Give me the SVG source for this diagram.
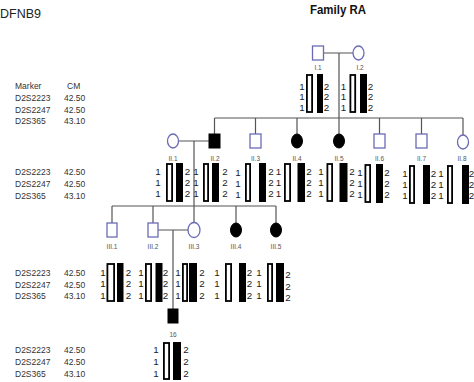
<svg xmlns="http://www.w3.org/2000/svg" width="474" height="382" viewBox="0 0 474 382">
<style>
.sym{fill:#fff;stroke:#6b6bb5;stroke-width:1.3}
.aff{fill:#000;stroke:#000;stroke-width:1}
.ln{stroke:#555;stroke-width:1.2;fill:none}
.w{fill:#fff;stroke:#000;stroke-width:1.8}
.b{fill:#000}
.n{font-family:"Liberation Sans",Arial,sans-serif;font-size:9.8px;fill:#1a1a1a;text-anchor:middle}
.lbl{font-family:"Liberation Sans",Arial,sans-serif;font-size:6.5px;fill:#555;text-anchor:middle}
.t{font-family:"Liberation Sans",Arial,sans-serif;font-size:8.5px;fill:#333}
</style>
<rect width="474" height="382" fill="#fff"/>
<text x="0" y="18" font-family="Liberation Sans, Arial, sans-serif" font-size="12.5" fill="#222">DFNB9</text>
<text x="310" y="13.5" font-family="Liberation Sans, Arial, sans-serif" font-size="13" font-weight="bold" fill="#111" textLength="56" lengthAdjust="spacingAndGlyphs">Family RA</text>
<g id="tables" class="t">
<text x="15" y="89">Marker</text><text x="67" y="89">CM</text>
<text x="15" y="101">D2S2223</text><text x="64" y="101">42.50</text>
<text x="15" y="112.5">D2S2247</text><text x="64" y="112.5">42.50</text>
<text x="15" y="124">D2S365</text><text x="64" y="124">43.10</text>
<text x="15" y="175">D2S2223</text><text x="64" y="175">42.50</text>
<text x="15" y="186.5">D2S2247</text><text x="64" y="186.5">42.50</text>
<text x="15" y="198.5">D2S365</text><text x="64" y="198.5">43.10</text>
<text x="15" y="276">D2S2223</text><text x="64" y="276">42.50</text>
<text x="15" y="287.5">D2S2247</text><text x="64" y="287.5">42.50</text>
<text x="15" y="299">D2S365</text><text x="64" y="299">43.10</text>
<text x="15" y="353">D2S2223</text><text x="64" y="353">42.50</text>
<text x="15" y="365">D2S2247</text><text x="64" y="365">42.50</text>
<text x="15" y="377">D2S365</text><text x="64" y="377">43.10</text>
</g>
<g id="connectors" class="ln">
<path d="M323 53H353M339 53V134"/>
<path d="M214.5 118H463M214.5 118V134M255.5 118V134M297 118V134M379.5 118V134M421.5 118V134M463 118V135"/>
<path d="M178.5 141H209M194 141V223"/>
<path d="M112 206H276M112 206V223M153 206V223M236 206V223M276 206V223"/>
<path d="M158 230H188M173 230V309"/>
</g>
<g id="I1">
<rect class="sym" x="312.5" y="46" width="11" height="14"/>
<text class="lbl" x="318" y="70">I.1</text>
<rect class="w" x="306.9" y="75" width="5.2" height="37"/><rect class="b" x="317" y="74" width="6" height="39"/>
<text class="n" x="302" y="89.5">1</text><text class="n" x="302" y="100">1</text><text class="n" x="302" y="111">1</text>
<text class="n" x="326.5" y="89.5">2</text><text class="n" x="326.5" y="100">2</text><text class="n" x="326.5" y="111">2</text>
</g>
<g id="I2">
<ellipse class="sym" cx="358.5" cy="53" rx="5.5" ry="7"/>
<text class="lbl" x="360" y="70">I.2</text>
<rect class="w" x="350.4" y="75" width="4.8" height="37"/><rect class="b" x="360" y="74" width="7" height="39"/>
<text class="n" x="343.5" y="89.5">1</text><text class="n" x="343.5" y="100">1</text><text class="n" x="343.5" y="111">1</text>
<text class="n" x="370.5" y="89.5">2</text><text class="n" x="370.5" y="100">2</text><text class="n" x="370.5" y="111">2</text>
</g>
<g id="II1">
<ellipse class="sym" cx="173" cy="141" rx="5.5" ry="7"/>
<text class="lbl" x="173" y="161">II.1</text>
<rect class="w" x="166.9" y="164" width="5.2" height="37"/><rect class="b" x="176" y="163" width="7" height="39"/>
<text class="n" x="158" y="174.5">1</text><text class="n" x="158" y="185.5">1</text><text class="n" x="158" y="197">1</text>
<text class="n" x="187.5" y="174.5">2</text><text class="n" x="187.5" y="185.5">2</text><text class="n" x="187.5" y="197">2</text>
</g>
<g id="II2">
<rect class="aff" x="209" y="134" width="11" height="14"/>
<text class="lbl" x="215" y="161">II.2</text>
<rect class="w" x="203.9" y="164" width="4.2" height="37"/><rect class="b" x="212" y="163" width="7" height="39"/>
<text class="n" x="196" y="174.5">1</text><text class="n" x="196" y="185.5">1</text><text class="n" x="196" y="197">1</text>
<text class="n" x="225" y="174.5">2</text><text class="n" x="225" y="185.5">2</text><text class="n" x="225" y="197">2</text>
</g>
<g id="II3">
<rect class="sym" x="250" y="134" width="11" height="14"/>
<text class="lbl" x="255.5" y="161">II.3</text>
<rect class="w" x="245.9" y="164" width="4.2" height="37"/><rect class="b" x="259" y="163" width="7" height="39"/>
<text class="n" x="238" y="175.5">1</text><text class="n" x="238" y="186.5">1</text><text class="n" x="238" y="198">1</text>
<text class="n" x="271" y="174.5">2</text><text class="n" x="271" y="185.5">2</text><text class="n" x="271" y="197">2</text>
</g>
<g id="II4">
<ellipse class="aff" cx="297" cy="141" rx="5.5" ry="7"/>
<text class="lbl" x="297" y="161">II.4</text>
<rect class="w" x="284.9" y="164" width="5.2" height="37"/><rect class="b" x="297.5" y="163" width="7.5" height="39"/>
<text class="n" x="278.5" y="174.5">1</text><text class="n" x="278.5" y="185.5">1</text><text class="n" x="278.5" y="197">1</text>
<text class="n" x="309" y="174.5">2</text><text class="n" x="309" y="185.5">2</text><text class="n" x="309" y="197">2</text>
</g>
<g id="II5">
<ellipse class="aff" cx="339" cy="141" rx="5.5" ry="7"/>
<text class="lbl" x="339" y="161">II.5</text>
<rect class="w" x="327.4" y="164" width="4.7" height="37"/><rect class="b" x="339.5" y="163" width="8" height="39"/>
<text class="n" x="321" y="174.5">1</text><text class="n" x="321" y="185.5">1</text><text class="n" x="321" y="197">1</text>
<text class="n" x="352" y="174.5">2</text><text class="n" x="352" y="185.5">2</text><text class="n" x="352" y="197">2</text>
</g>
<g id="II6">
<rect class="sym" x="374" y="134" width="11" height="14"/>
<text class="lbl" x="379.5" y="161">II.6</text>
<rect class="w" x="365.4" y="165" width="4.7" height="37"/><rect class="b" x="376" y="164" width="7" height="39"/>
<text class="n" x="360" y="175.5">1</text><text class="n" x="360" y="186.5">1</text><text class="n" x="360" y="198">1</text>
<text class="n" x="387" y="175.5">2</text><text class="n" x="387" y="186.5">2</text><text class="n" x="387" y="198">2</text>
</g>
<g id="II7">
<rect class="sym" x="416" y="134" width="11" height="14"/>
<text class="lbl" x="421.5" y="161">II.7</text>
<rect class="w" x="409.9" y="166" width="4.2" height="37"/><rect class="b" x="423" y="165" width="7" height="39"/>
<text class="n" x="405" y="177">1</text><text class="n" x="405" y="188">1</text><text class="n" x="405" y="199">1</text>
<text class="n" x="433.5" y="177">2</text><text class="n" x="433.5" y="188">2</text><text class="n" x="433.5" y="199">2</text>
</g>
<g id="II8">
<ellipse class="sym" cx="463" cy="142" rx="5.5" ry="7"/>
<text class="lbl" x="462" y="161">II.8</text>
<rect class="w" x="447.9" y="166" width="4.2" height="37"/><rect class="b" x="462" y="165" width="7" height="39"/>
<text class="n" x="441" y="177">1</text><text class="n" x="441" y="188">1</text><text class="n" x="441" y="199">1</text>
<text class="n" x="471.5" y="177">2</text><text class="n" x="471.5" y="188">2</text><text class="n" x="471.5" y="199">2</text>
</g>
<g id="III1">
<rect class="sym" x="107" y="223" width="10" height="14"/>
<text class="lbl" x="112" y="249">III.1</text>
<rect class="w" x="107.4" y="264" width="6.7" height="37"/><rect class="b" x="117" y="263" width="6.5" height="39"/>
<text class="n" x="103" y="275.5">1</text><text class="n" x="103" y="287">1</text><text class="n" x="103" y="299">1</text>
<text class="n" x="128.5" y="275.5">2</text><text class="n" x="128.5" y="287">2</text><text class="n" x="128.5" y="299">2</text>
</g>
<g id="III2">
<rect class="sym" x="148" y="223" width="10" height="14"/>
<text class="lbl" x="153" y="249">III.2</text>
<rect class="w" x="145.9" y="264" width="5.2" height="37"/><rect class="b" x="155.5" y="263" width="7" height="39"/>
<text class="n" x="141" y="275.5">1</text><text class="n" x="141" y="287">1</text><text class="n" x="141" y="299">1</text>
<text class="n" x="165.5" y="275.5">2</text><text class="n" x="165.5" y="287">2</text><text class="n" x="165.5" y="299">2</text>
</g>
<g id="III3">
<ellipse class="sym" cx="194" cy="230" rx="6" ry="7.5"/>
<text class="lbl" x="194" y="249">III.3</text>
<rect class="w" x="182.9" y="264" width="4.2" height="37"/><rect class="b" x="189" y="263" width="8" height="39"/>
<text class="n" x="178" y="275.5">1</text><text class="n" x="178" y="287">1</text><text class="n" x="178" y="299">1</text>
<text class="n" x="202" y="275.5">2</text><text class="n" x="202" y="287">2</text><text class="n" x="202" y="299">2</text>
</g>
<g id="III4">
<ellipse class="aff" cx="236" cy="230" rx="5.5" ry="7"/>
<text class="lbl" x="236" y="249">III.4</text>
<rect class="w" x="225.9" y="264" width="5.2" height="37"/><rect class="b" x="239" y="263" width="7" height="39"/>
<text class="n" x="217" y="275.5">1</text><text class="n" x="217" y="287">1</text><text class="n" x="217" y="299">1</text>
<text class="n" x="249.5" y="275.5">2</text><text class="n" x="249.5" y="287">2</text><text class="n" x="249.5" y="299">2</text>
</g>
<g id="III5">
<ellipse class="aff" cx="276" cy="230" rx="5.5" ry="7"/>
<text class="lbl" x="276" y="249">III.5</text>
<rect class="w" x="267.9" y="264" width="4.2" height="37"/><rect class="b" x="276" y="263" width="8" height="39"/>
<text class="n" x="259" y="275.5">1</text><text class="n" x="259" y="287">1</text><text class="n" x="259" y="299">1</text>
<text class="n" x="288" y="278">2</text><text class="n" x="288" y="289.5">2</text><text class="n" x="288" y="301">2</text>
</g>
<g id="IV16">
<rect class="aff" x="168" y="309" width="10" height="14"/>
<text class="lbl" x="173" y="337">16</text>
<rect class="w" x="163.9" y="343" width="5.2" height="36"/><rect class="b" x="173" y="342" width="8" height="38"/>
<text class="n" x="156" y="353">1</text><text class="n" x="156" y="365">1</text><text class="n" x="156" y="377">1</text>
<text class="n" x="186" y="353">2</text><text class="n" x="186" y="365">2</text><text class="n" x="186" y="377">2</text>
</g>
</svg>
